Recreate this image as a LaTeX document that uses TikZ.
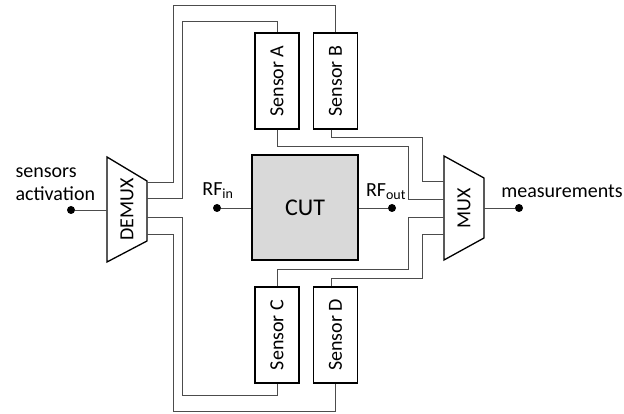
\documentclass[tikz,border=0pt]{standalone}
\usepackage{fontspec}
\setmainfont{Carlito}
\usetikzlibrary{positioning}

\begin{document}
\begin{tikzpicture}[x=1pt,y=-1pt,
  wire/.style={draw=black!70,line width=0.8pt},
  sensorbox/.style={draw,line width=1.3pt,minimum width=44pt,minimum height=96pt,inner sep=0pt,font=\fontsize{20}{20}\selectfont},
  muxbox/.style={draw,line width=1.3pt,line join=miter},
  pin/.style={circle,fill,inner sep=0pt,minimum size=8pt},
  lbl/.style={font=\fontsize{20}{23}\selectfont}]
\useasboundingbox (0,0) rectangle (624,414);
\node[draw,line width=1.3pt,fill=black!15,minimum width=106pt,minimum height=105pt,font=\fontsize{24}{24}\selectfont] (cut) at (305,207.5) {CUT};
\node[sensorbox] (sa) at (277,81) {\rotatebox{90}{Sensor A}};
\node[sensorbox] (sb) at (335.5,81) {\rotatebox{90}{Sensor B}};
\node[sensorbox] (sc) at (277,335) {\rotatebox{90}{Sensor C}};
\node[sensorbox] (sd) at (335.5,335) {\rotatebox{90}{Sensor D}};
% demux and mux
\draw[muxbox] (107,157) -- (147,181) -- (147,241) -- (107,262) -- cycle;
\node[lbl] (demux) at (127,209.5) {\rotatebox{90}{DEMUX}};
\draw[muxbox] (444,156) -- (484,178) -- (484,238) -- (444,260) -- cycle;
\node[lbl] (mux) at (464,208) {\rotatebox{90}{MUX}};
\coordinate (din) at (107,210);
\coordinate (do1) at (147,182);
\coordinate (do2) at (147,198);
\coordinate (do3) at (147,217);
\coordinate (do4) at (147,234);
\coordinate (mi1) at (444,181);
\coordinate (mi2) at (444,199);
\coordinate (mi3) at (444,217);
\coordinate (mi4) at (444,234);
\coordinate (mout) at (484,208);
% pins and labels
\node[pin] (sin) at (71,210) {};
\node[lbl,align=left,anchor=west] (sact) at (12,184) {sensors\\activation};
\node[pin] (rfin) at (217,208) {};
\node[lbl] (rfinl) at (218,191) {RF\textsubscript{in}};
\node[pin] (rfout) at (392,208) {};
\node[lbl] (rfoutl) at (386,192) {RF\textsubscript{out}};
\node[pin] (meas) at (519,208) {};
\node[lbl] (measl) at (562,191) {measurements};
% wiring
\draw[wire] (sin) -- (din);
\draw[wire] (rfin) -- (cut.west |- rfin);
\draw[wire] (cut.east |- rfout) -- (rfout);
\draw[wire] (mout) -- (meas);
\draw[wire] (do1) -| (173,5) -| (sb.north);
\draw[wire] (do2) -| (182,21) -| (sa.north);
\draw[wire] (do3) -| (182,395) -| (sc.south);
\draw[wire] (do4) -| (173,411) -| (sd.south);
\draw[wire] ([xshift=-4.5pt]sb.south) |- (422,137) |- (mi1);
\draw[wire] (sa.south) |- (408,146) |- (mi2);
\draw[wire] (sc.north) |- (408,269) |- (mi3);
\draw[wire] ([xshift=-4.5pt]sd.north) |- (422,278) |- (mi4);
\end{tikzpicture}
\end{document}
